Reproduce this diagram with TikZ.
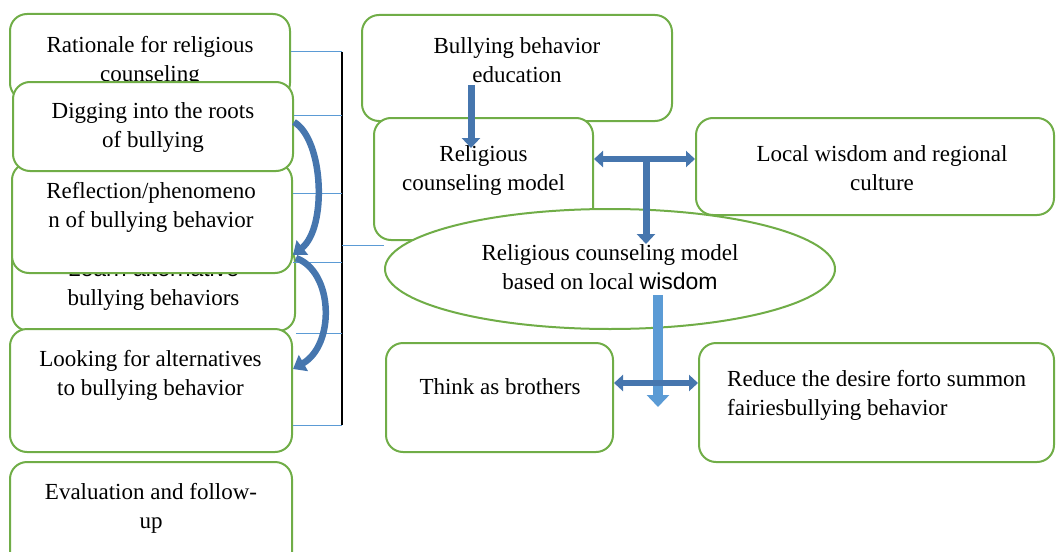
\documentclass[tikz,border=0pt]{standalone}
\usepackage{fontspec}
\setmainfont{Liberation Serif}
\newfontfamily\wisdomfont{Liberation Sans}
\usetikzlibrary{arrows.meta,shapes.geometric}
\definecolor{boxgreen}{RGB}{112,173,71}
\definecolor{arrowblue}{RGB}{70,118,174}
\definecolor{lightarrow}{RGB}{91,155,213}
\definecolor{tickblue}{RGB}{91,155,213}
\tikzset{
  box/.style={draw=boxgreen, line width=2pt, rounded corners=17pt, fill=white, inner sep=0pt},
  txt/.style={align=center, inner sep=0pt, anchor=north, font=\fontsize{23}{29}\selectfont},
  blockarrow/.style={draw=arrowblue, line width=7pt, -{Triangle[width=18pt,length=10pt]}},
  twoway/.style={draw=arrowblue, line width=6pt, {Triangle[width=16pt,length=9pt]}-{Triangle[width=16pt,length=9pt]}},
  lightblock/.style={draw=lightarrow, line width=10pt, -{Triangle[width=22pt,length=12pt]}},
  bendarrow/.style={draw=arrowblue, line width=6.5pt, -{Triangle[width=18pt,length=12pt]}},
  tick/.style={draw=tickblue, line width=1pt},
  bracket/.style={draw=black, line width=1.2pt}
}
\begin{document}
\begin{tikzpicture}[x=1pt,y=-1pt]
  \useasboundingbox (0,0) rectangle (1056,551);
  % left column of steps
  \node[box, minimum width=280pt, minimum height=86pt] (rat) at (150,57) {};
  \node[txt] (ratText) at (150,36) {Rationale for religious\\counseling};
  \node[box, minimum width=283pt, minimum height=86pt] (lrn) at (153.5,288) {};
  \node[txt] (lrnText) at (153.5,260) {{\wisdomfont Learn alternative}\\bullying behaviors};
  \node[box, minimum width=280pt, minimum height=110pt] (ref) at (152,218) {};
  \node[txt] (refText) at (151,182) {Reflection/phenomeno\\n of bullying behavior};
  \node[box, minimum width=280pt, minimum height=89pt] (dig) at (153,126.5) {};
  \node[txt] (digText) at (153,102) {Digging into the roots\\of bullying};
  \node[box, minimum width=282pt, minimum height=123pt] (lok) at (151,390.5) {};
  \node[txt] (lokText) at (150.5,350) {Looking for alternatives\\to bullying behavior};
  \node[box, minimum width=282pt, minimum height=118pt] (eva) at (151,521) {};
  \node[txt] (evaText) at (151,483) {Evaluation and follow-\\up};
  % right part
  \node[box, minimum width=310pt, minimum height=106pt] (edu) at (517,68) {};
  \node[txt] (eduText) at (517,37) {Bullying behavior\\education};
  \node[box, minimum width=219pt, minimum height=122pt] (cns) at (483.5,179) {};
  \node[txt] (cnsText) at (483.5,145) {Religious\\counseling model};
  \node[box, minimum width=358pt, minimum height=97pt] (loc) at (875,166.5) {};
  \node[txt] (locText) at (882,145) {Local wisdom and regional\\culture};
  \node[draw=boxgreen, line width=2pt, fill=white, ellipse, inner sep=0pt,
        minimum width=450pt, minimum height=120pt] (ell) at (610,269) {};
  \node[txt] (ellText) at (610,244) {Religious counseling model\\based on local {\wisdomfont wisdom}};
  \node[box, minimum width=227pt, minimum height=109pt] (thk) at (499.5,397.5) {};
  \node[txt] (thkText) at (500,378) {Think as brothers};
  \node[box, minimum width=355pt, minimum height=119pt] (red) at (876.5,402.5) {};
  \node[txt, anchor=north west, align=left] (redText) at (727,370) {Reduce the desire forto summon\\fairiesbullying behavior};
  % bracket
  \coordinate (brTop) at (342,52);
  \coordinate (brBot) at (342,425);
  \draw[bracket] (brTop) -- (brBot);
  \draw[tick] (rat.east |- brTop) -- (brTop);
  \draw[tick] (lok.east |- brBot) -- (brBot);
  \foreach \n/\y in {dig/115, ref/193, ref/262, lrn/333}
    \draw[tick] (\n.east |- 0,\y) -- (brTop |- 0,\y);
  \draw[tick] (brTop |- 0,245) -- (ell.west |- 0,245);
  % arrows
  \coordinate (eduFoot) at (471,85);
  \coordinate (cnsHead) at (471,148);
  \draw[blockarrow] (eduFoot) -- (cnsHead);
  \draw[twoway] (cns.east |- 0,159) -- (loc.west |- 0,159);
  \coordinate (tJoin) at (646,156);
  \coordinate (ellTop) at (646,244);
  \draw[blockarrow] (tJoin) -- (ellTop);
  \coordinate (ellFoot) at (658,295);
  \coordinate (splitEnd) at (658,407);
  \draw[lightblock] (ellFoot) -- (splitEnd);
  \draw[twoway] (thk.east |- 0,383) -- (red.west |- 0,383);
  \draw[bendarrow] (dig.east |- 0,122) .. controls (324,140) and (327,228) .. (ref.east |- 0,255);
  \draw[bendarrow] (lrn.east |- 0,258) .. controls (334,272) and (335,345) .. (lok.east |- 0,369);
\end{tikzpicture}
\end{document}
